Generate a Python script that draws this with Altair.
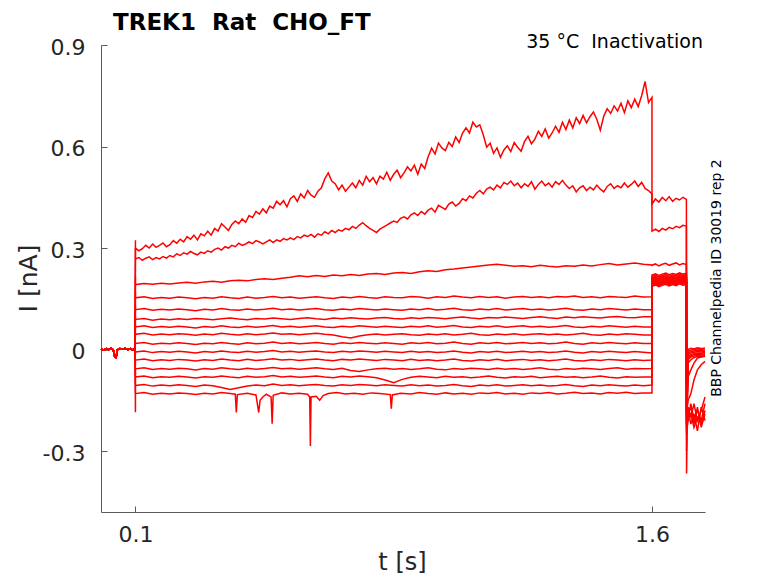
import altair as alt
import pandas as pd

# ---------------- data (currents in pA, i.e. 0.001 nA) ----------------
TRACE_NAMES = ["T01", "T02", "T03", "T04", "T05", "T06", "T07", "T08",
               "T09", "T10", "T11", "T12", "T13", "T14", "T15"]

# holding period before the step (shared by all sweeps)
PRE_T = [0.000, 0.008, 0.015, 0.022, 0.030, 0.036, 0.040, 0.044, 0.047,
         0.055, 0.062, 0.070, 0.078, 0.085, 0.092, 0.099]
PRE_PA = [2, -1, 3, 0, 4, -2, -22, -24, -1, 3, 1, 4, 0, 3, -1, 2]

# capacitive spike at step onset (t = 0.1 s)
ONSET_PA = [323, 300, 215, 170, 130, 100, 75, 50, 22, -15, -45, -75, -100, -130, -185]

STEP_START, STEP_END = 0.1, 1.6

# sampled every 0.01 s from 0.10 s to 1.60 s
T01_STEP_PA = [300, 292, 298, 308, 300, 312, 302, 308, 315, 304,
               310, 322, 314, 326, 318, 334, 326, 338, 324, 342,
               336, 350, 338, 358, 350, 372, 362, 352, 370, 380,
               372, 386, 376, 396, 390, 408, 400, 416, 404, 424,
               418, 438, 428, 440, 422, 446, 454, 438, 460, 448,
               470, 456, 450, 468, 478, 505, 522, 498, 490, 472,
               486, 468, 480, 492, 478, 500, 486, 512, 496, 508,
               490, 512, 504, 524, 500, 518, 530, 508, 522, 540,
               528, 545, 518, 548, 535, 570, 595, 578, 610, 596,
               588, 612, 600, 628, 612, 640, 655, 640, 672, 658,
               664, 635, 598, 610, 580, 596, 568, 590, 602, 585,
               612, 598, 586, 615, 630, 608, 622, 645, 630, 652,
               625, 640, 660, 642, 672, 650, 678, 655, 685, 668,
               692, 670, 688, 702, 680, 648, 690, 712, 698, 720,
               705, 728, 700, 735, 715, 740, 718, 750, 792, 730, 745]
T02_STEP_PA = [268, 272, 264, 270, 274, 266, 272, 268, 275, 270,
               278, 274, 283, 278, 286, 282, 290, 284, 280, 288,
               284, 292, 288, 296, 300, 294, 304, 300, 308, 304,
               314, 308, 312, 318, 313, 322, 318, 312, 318, 324,
               316, 324, 320, 328, 324, 330, 325, 334, 330, 338,
               334, 340, 332, 342, 338, 348, 342, 352, 346, 354,
               350, 358, 354, 364, 358, 368, 375, 366, 358, 352,
               346, 356, 362, 368, 374, 380, 376, 388, 392, 386,
               398, 404, 396, 408, 400, 412, 418, 406, 426, 420,
               414, 430, 436, 424, 432, 446, 440, 454, 448, 462,
               470, 460, 474, 480, 472, 486, 478, 494, 488, 498,
               484, 492, 478, 490, 482, 496, 474, 488, 498, 484,
               492, 480, 496, 488, 500, 486, 476, 484, 466, 478,
               484, 470, 480, 472, 486, 474, 466, 482, 490, 476,
               484, 478, 492, 480, 488, 498, 482, 494, 476, 470, 460]
# sampled every 0.025 s
T03_STEP_PA = [192, 195, 193, 196, 194, 197, 199, 196, 200, 202,
               199, 203, 205, 203, 207, 209, 207, 211, 214, 218,
               215, 219, 216, 220, 218, 222, 219, 223, 225, 222,
               226, 228, 225, 230, 233, 231, 236, 238, 241, 244,
               247, 250, 252, 249, 246, 248, 245, 249, 246, 244,
               248, 246, 250, 247, 251, 254, 250, 253, 256, 252, 250]
T04_STEP_PA = [153, 156, 151, 154, 152, 155, 153, 150, 154, 152, 156, 153, 151, 155, 152,
               154, 157, 153, 155, 152, 154, 156, 153, 151, 155, 153, 157, 154, 152, 156,
               154, 153, 157, 155, 152, 156, 154, 158, 155, 153, 157, 154, 156, 152, 155,
               157, 154, 156, 153, 157, 155, 158, 154, 156, 153, 157, 155, 154, 158, 155, 156]
T05_STEP_PA = [118, 121, 116, 119, 117, 120, 118, 115, 119, 117, 121, 118, 116, 120, 117,
               119, 122, 118, 120, 117, 119, 121, 118, 116, 120, 118, 121, 119, 117, 120,
               118, 116, 120, 118, 121, 117, 119, 122, 118, 116, 120, 118, 121, 117, 119,
               121, 118, 120, 117, 119, 122, 118, 116, 120, 118, 121, 119, 117, 120, 118, 118]
T06_STEP_PA = [89, 92, 87, 90, 88, 91, 89, 92, 90, 88, 91, 93, 90, 88, 92,
               90, 93, 91, 89, 92, 94, 91, 89, 93, 91, 94, 92, 90, 93, 95,
               92, 90, 94, 92, 95, 93, 91, 94, 96, 93, 91, 95, 93, 96, 94,
               92, 95, 97, 94, 92, 96, 94, 97, 95, 93, 96, 98, 95, 94, 97, 97]
T07_STEP_PA = [67, 70, 65, 68, 66, 69, 67, 64, 68, 66, 70, 67, 65, 69, 66,
               68, 71, 67, 69, 66, 68, 70, 67, 65, 69, 67, 70, 68, 66, 69,
               67, 65, 69, 67, 70, 66, 68, 71, 67, 65, 69, 67, 70, 66, 68,
               70, 67, 69, 66, 68, 71, 67, 65, 69, 67, 70, 68, 66, 69, 67, 67]
T08_STEP_PA = [45, 48, 43, 46, 44, 47, 45, 42, 46, 44, 48, 45, 43, 47, 44,
               46, 49, 45, 47, 44, 46, 48, 45, 43, 38, 34, 40, 44, 46, 43,
               45, 47, 44, 42, 46, 44, 47, 43, 45, 48, 44, 42, 46, 44, 47,
               43, 45, 47, 44, 46, 43, 45, 48, 44, 42, 46, 44, 47, 45, 43, 43]
T09_STEP_PA = [18, 21, 16, 19, 17, 20, 18, 15, 19, 17, 21, 18, 16, 20, 17,
               19, 22, 18, 20, 17, 19, 21, 18, 16, 20, 18, 21, 19, 17, 20,
               18, 16, 20, 18, 21, 17, 19, 22, 18, 16, 20, 18, 21, 17, 19,
               21, 18, 20, 17, 19, 22, 18, 16, 20, 18, 21, 19, 17, 20, 18, 18]
T10_STEP_PA = [-7, -4, -9, -6, -8, -5, -7, -10, -6, -8, -4, -7, -9, -5, -8,
               -6, -3, -7, -5, -8, -6, -4, -7, -9, -5, -7, -4, -6, -8, -5,
               -7, -9, -5, -8, -6, -9, -7, -4, -8, -10, -6, -8, -5, -9, -7,
               -5, -8, -6, -9, -7, -4, -8, -10, -6, -8, -5, -7, -9, -6, -8, -10]
T11_STEP_PA = [-31, -28, -33, -30, -32, -29, -31, -34, -30, -32, -28, -31, -33, -29, -32,
               -30, -27, -31, -29, -32, -30, -28, -31, -33, -29, -31, -28, -30, -32, -29,
               -31, -33, -29, -32, -30, -33, -31, -28, -32, -34, -30, -32, -29, -33, -31,
               -29, -32, -30, -33, -31, -28, -32, -34, -30, -32, -29, -31, -33, -30, -32, -31]
T12_STEP_PA = [-57, -54, -59, -56, -58, -55, -57, -60, -56, -58, -54, -57, -59, -55, -58,
               -56, -53, -57, -55, -58, -56, -54, -57, -59, -55, -62, -65, -60, -57, -55,
               -58, -56, -59, -57, -54, -58, -60, -56, -58, -55, -57, -59, -55, -58, -56,
               -59, -57, -54, -58, -60, -56, -58, -55, -57, -59, -56, -54, -58, -56, -57, -56]
T13_STEP_PA = [-81, -78, -83, -80, -82, -79, -81, -84, -80, -82, -78, -81, -83, -79, -82,
               -80, -77, -81, -79, -82, -80, -78, -81, -83, -79, -81, -78, -80, -83, -90,
               -98, -88, -82, -79, -81, -83, -79, -82, -80, -83, -81, -78, -82, -84, -80,
               -82, -79, -83, -81, -79, -82, -80, -83, -81, -78, -82, -84, -80, -82, -81, -81]
T14_STEP_PA = [-106, -103, -108, -105, -107, -104, -106, -109, -105, -107, -112, -118, -113, -108, -105,
               -107, -102, -106, -104, -107, -105, -103, -106, -108, -104, -106, -103, -105, -107, -104,
               -106, -108, -104, -107, -105, -108, -106, -103, -107, -109, -105, -107, -104, -108, -106,
               -104, -107, -105, -108, -106, -103, -107, -109, -105, -107, -104, -106, -108, -105, -107, -105]
# lowest sweep has narrow downward spikes, so its sample times are listed
T15_STEP_T = [0.100, 0.125, 0.150, 0.175, 0.200, 0.225, 0.250, 0.275, 0.300, 0.325,
              0.350, 0.375, 0.390, 0.393, 0.396, 0.425, 0.450, 0.458, 0.462, 0.470,
              0.480, 0.494, 0.497, 0.500, 0.525, 0.550, 0.575, 0.600, 0.606, 0.608,
              0.610, 0.625, 0.635, 0.645, 0.660, 0.685, 0.710, 0.735, 0.760, 0.785,
              0.810, 0.840, 0.843, 0.846, 0.870, 0.900, 0.925, 0.950, 0.975, 1.000,
              1.025, 1.050, 1.075, 1.100, 1.125, 1.150, 1.175, 1.200, 1.225, 1.250,
              1.275, 1.300, 1.325, 1.350, 1.375, 1.400, 1.425, 1.450, 1.475, 1.500,
              1.525, 1.550, 1.575, 1.600]
T15_STEP_PA = [-130, -127, -132, -129, -131, -128, -130, -133, -129, -131,
               -127, -130, -132, -186, -133, -129, -134, -186, -150, -140,
               -132, -140, -219, -135, -128, -131, -129, -132, -140, -285,
               -140, -138, -150, -136, -130, -127, -131, -129, -132, -128,
               -130, -133, -175, -134, -129, -131, -127, -130, -132, -128,
               -131, -129, -132, -128, -130, -127, -131, -129, -132, -128,
               -130, -127, -131, -129, -126, -130, -128, -131, -127, -129,
               -126, -130, -128, -128]

# period after the step (1.6 s - 1.7 s)
POST_T = [1.60, 1.61, 1.62, 1.63, 1.64, 1.65, 1.66, 1.67, 1.68, 1.69, 1.70]
POST_PA = [
    [430, 445, 436, 450, 440, 452, 438, 447, 442, 450, 444],
    [350, 356, 349, 358, 353, 361, 357, 364, 360, 367, 365],
    [249, 253, 247, 252, 255, 249, 253, 256, 250, 254, 251],
    [220, 224, 219, 223, 226, 221, 225, 222, 227, 223, 225],
    [216, 220, 215, 219, 222, 217, 221, 218, 223, 219, 221],
    [212, 216, 211, 215, 218, 213, 217, 214, 219, 215, 217],
    [209, 213, 208, 212, 215, 210, 214, 211, 216, 212, 214],
    [206, 210, 205, 209, 212, 207, 211, 208, 213, 209, 211],
    [203, 207, 202, 206, 209, 204, 208, 205, 210, 206, 208],
    [200, 204, 199, 203, 206, 201, 205, 202, 207, 203, 205],
    [198, 202, 197, 201, 204, 199, 203, 200, 205, 201, 203],
    [195, 199, 194, 198, 201, 196, 200, 197, 202, 198, 200],
    [193, 197, 192, 196, 199, 194, 198, 195, 200, 196, 198],
    [190, 194, 189, 193, 196, 191, 195, 192, 197, 193, 195],
    [187, 191, 186, 190, 193, 188, 192, 189, 194, 190, 192],
]

# tail after returning to holding potential
TAIL_T = [1.7005, 1.705, 1.713, 1.722, 1.732, 1.743, 1.754]
TAIL_PA = [
    [-366, 0, 4, 2, 5, 3, 4],
    [-300, -5, -2, 0, 2, 1, 3],
    [-250, -10, -6, -4, -2, -3, -1],
    [-220, -15, -10, -8, -6, -7, -5],
    [-200, -20, -15, -12, -10, -11, -8],
    [-190, -25, -18, -15, -13, -14, -12],
    [-180, -30, -22, -19, -16, -17, -15],
    [-170, -40, -30, -24, -20, -21, -18],
    [-170, -80, -60, -40, -25, -22, -20],
    [-180, -150, -130, -90, -60, -45, -35],
    [-200, -190, -170, -200, -180, -210, -160],
    [-210, -170, -200, -160, -210, -180, -140],
    [-220, -200, -160, -220, -170, -230, -190],
    [-230, -180, -220, -190, -240, -170, -210],
    [-240, -210, -190, -230, -200, -220, -180],
]

X_TICKS = [0.1, 1.6]
Y_TICKS = [-0.3, 0.0, 0.3, 0.6, 0.9]
X_DOMAIN = [0.0, 1.754]
Y_DOMAIN = [-0.48, 0.9]

TITLE = "TREK1\u00a0 Rat\u00a0 CHO_FT"
NOTE_TOP = "35 °C\u00a0 Inactivation"
NOTE_SIDE = "BBP Channelpedia ID 30019 rep 2"

# ---------------- build table ----------------
STEP_ARRAYS = [T01_STEP_PA, T02_STEP_PA, T03_STEP_PA, T04_STEP_PA, T05_STEP_PA,
               T06_STEP_PA, T07_STEP_PA, T08_STEP_PA, T09_STEP_PA, T10_STEP_PA,
               T11_STEP_PA, T12_STEP_PA, T13_STEP_PA, T14_STEP_PA]

rows = []
for k, name in enumerate(TRACE_NAMES):
    seq = list(zip(PRE_T, PRE_PA))
    seq.append((STEP_START, ONSET_PA[k]))
    if k < len(STEP_ARRAYS):
        arr = STEP_ARRAYS[k]
        n = len(arr)
        ts = [STEP_START + j * (STEP_END - STEP_START) / (n - 1) for j in range(n)]
        seq += list(zip(ts, arr))
    else:
        seq += list(zip(T15_STEP_T, T15_STEP_PA))
    seq += list(zip(POST_T, POST_PA[k]))
    seq += list(zip(TAIL_T, TAIL_PA[k]))
    for o, (t, v) in enumerate(seq):
        rows.append({"trace": name, "t": t, "i": v / 1000.0, "o": o})
df = pd.DataFrame(rows)

# ---------------- chart ----------------
AX = "#5a5a5a"
TXT = "#262626"
FONT = "DejaVu Sans"
W, H = 604, 467

xs = alt.Scale(domain=X_DOMAIN, nice=False, zero=False)
ys = alt.Scale(domain=Y_DOMAIN, nice=False, zero=False)

y_label_expr = ("datum.value == 0 ? '0' : (datum.value < 0 ? '-' + format(-datum.value, '.1f')"
                " : format(datum.value, '.1f'))")

lines = alt.Chart(df).mark_line(color="#ff0000", strokeWidth=1.5).encode(
    x=alt.X("t:Q", scale=xs, axis=alt.Axis(
        orient="bottom", values=X_TICKS, labelExpr="format(datum.value, '.1f')",
        ticks=False, tickSize=0, domain=True, domainColor=AX, domainWidth=1,
        grid=False, labelPadding=12, labelFontSize=22, labelFont=FONT, labelColor=TXT,
        title="t [s]", titleFont=FONT, titleFontSize=24, titleFontWeight="normal",
        titleColor=TXT, titleX=301, titleY=57, titleBaseline="alphabetic",
        titleAlign="center")),
    y=alt.Y("i:Q", scale=ys, axis=alt.Axis(
        orient="left", values=Y_TICKS, labelExpr=y_label_expr,
        ticks=False, tickSize=0, domain=True, domainColor=AX, domainWidth=1,
        grid=False, labelPadding=16, labelFontSize=22, labelFont=FONT, labelColor=TXT,
        labelOffset=2,
        title="I [nA]", titleFont=FONT, titleFontSize=25, titleFontWeight="normal",
        titleColor=TXT, titleAngle=270, titleX=-65, titleY=233,
        titleBaseline="alphabetic", titleAlign="center")),
    detail="trace:N",
    order="o:Q",
)

tick_df = pd.DataFrame({"t": X_TICKS, "i": [0.0, 0.3]})
ticks = alt.Chart(tick_df).mark_point(opacity=0).encode(
    x=alt.X("t:Q", scale=xs, axis=alt.Axis(
        orient="bottom", values=X_TICKS, offset=-6, ticks=True, tickSize=6,
        tickColor=AX, tickWidth=1, labels=False, domain=False, grid=False, title=None)),
    y=alt.Y("i:Q", scale=ys, axis=alt.Axis(
        orient="left", values=Y_TICKS, offset=-6, ticks=True, tickSize=6,
        tickColor=AX, tickWidth=1, labels=False, domain=False, grid=False, title=None)),
)

title_txt = alt.Chart(pd.DataFrame({"s": [TITLE]})).mark_text(
    align="left", baseline="alphabetic", font=FONT, fontSize=23, fontWeight="bold",
    color="#000000").encode(x=alt.value(12), y=alt.value(-15), text="s:N")

note_top = alt.Chart(pd.DataFrame({"s": [NOTE_TOP]})).mark_text(
    align="right", baseline="alphabetic", font=FONT, fontSize=19, color="#000000"
).encode(x=alt.value(602), y=alt.value(3), text="s:N")

note_side = alt.Chart(pd.DataFrame({"s": [NOTE_SIDE]})).mark_text(
    align="center", baseline="alphabetic", font=FONT, fontSize=14, angle=270,
    color="#000000").encode(x=alt.value(620), y=alt.value(233), text="s:N")

chart = alt.layer(lines, ticks, title_txt, note_top, note_side).resolve_axis(
    x="independent", y="independent"
).properties(
    width=W, height=H,
    autosize=alt.AutoSizeParams(type="none"),
    padding={"left": 93, "top": 37, "right": 60, "bottom": 63},
    background="white",
).configure_view(stroke=None)

chart.save("out.html", embed_options={"renderer": "svg", "actions": False})
